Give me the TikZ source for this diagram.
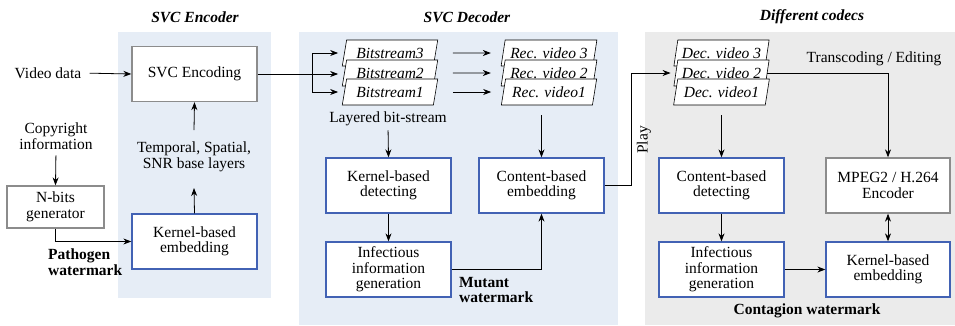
\documentclass[tikz,border=0pt]{standalone}
\usepackage{fontspec}
\setmainfont{Liberation Serif}
\usetikzlibrary{arrows.meta,shapes.geometric,calc}
\definecolor{encbg}{HTML}{E6EDF6}
\definecolor{codecbg}{HTML}{EBEBEB}
\definecolor{boxblue}{HTML}{4262B4}
\definecolor{boxgray}{HTML}{8C8C8C}
\begin{document}
\begin{tikzpicture}[x=1pt,y=-1pt,
  every node/.style={font=\fontsize{15.5}{15.5}\selectfont, inner sep=0pt},
  arr/.style={-{Stealth[length=8pt,width=6pt]}, line width=0.8pt},
  dblarr/.style={{Stealth[length=8pt,width=6pt]}-{Stealth[length=8pt,width=6pt]}, line width=0.8pt},
  conn/.style={line width=0.8pt},
  bluebox/.style={draw=boxblue, line width=1.3pt, fill=white, minimum width=125pt, minimum height=55pt, align=center},
  graybox/.style={draw=boxgray, line width=1.3pt, fill=white, minimum width=125pt, minimum height=55pt, align=center},
  stream/.style={trapezium, trapezium left angle=72, trapezium right angle=108,
    trapezium stretches=true, draw, line width=0.6pt, fill=white,
    minimum width=96pt, minimum height=26pt, font=\fontsize{15.5}{15.5}\selectfont\itshape},
  title/.style={font=\fontsize{15.5}{15.5}\selectfont\bfseries\itshape},
  wmark/.style={font=\fontsize{15.5}{15.5}\selectfont\bfseries, align=left}
]
\useasboundingbox (0,0) rectangle (955,325);

% stage backgrounds
\fill[encbg] (118,32) rectangle (271,298);
\fill[encbg] (299,32) rectangle (618,325);
\fill[codecbg] (645,32) rectangle (955,325);

% stage titles
\node[title] (tenc) at (195,17) {SVC Encoder};
\node[title] (tdec) at (467,17) {SVC Decoder};
\node[title] (tcod) at (812,17) {Different codecs};

% encoder side
\node (video) at (48,73) {Video data};
\node[graybox] (svcenc) at (194.5,74) {SVC Encoding};
\node[align=center] (copy) at (56,136) {Copyright\\information};
\node[graybox, minimum width=97pt, minimum height=42pt] (nbits) at (55.5,207) {N-bits\\generator};
\node[align=center] (layers) at (194,157) {Temporal, Spatial,\\SNR base layers};
\node[bluebox] (kemb) at (194.5,241.5) {Kernel-based\\embedding};
\node[wmark, anchor=west] (pathogen) at (48,262) {Pathogen\\watermark};

\draw[arr, shorten <=8pt] (video.east) -- (svcenc.west);
\draw[arr, shorten <=6pt] (copy.south) -- (nbits.north);
\draw[arr] (nbits.south) |- (kemb.west);
\draw[arr] (kemb.north) -- (layers.north |- 0,188);
\draw[arr] (layers.north |- 0,130) -- (svcenc.south);

% decoder side: layered bit-streams
\node[stream] (bs3) at (390,53) {Bitstream3};
\node[stream] (bs2) at (390,73) {Bitstream2};
\node[stream] (bs1) at (390,92) {Bitstream1};
\node[stream] (rv3) at (549,53) {Rec. video 3};
\node[stream] (rv2) at (549,73) {Rec. video 2};
\node[stream] (rv1) at (549,92) {Rec. video1};
\node (layered) at (388,119) {Layered bit-stream};

\coordinate (split) at (312,74);
\draw[conn] (svcenc.east |- split) -- (split);
\draw[arr, shorten >=6pt] (split) |- (bs3.west);
\draw[arr, shorten >=6pt] (split) -- (bs2.west |- split);
\draw[arr, shorten >=6pt] (split) |- (bs1.west);
\draw[arr, shorten <=17pt, shorten >=12pt] (bs3.east) -- (rv3.west);
\draw[arr, shorten <=17pt, shorten >=12pt] (bs2.east) -- (rv2.west);
\draw[arr, shorten <=17pt, shorten >=12pt] (bs1.east) -- (rv1.west);

\node[bluebox] (kdet) at (388.5,185.5) {Kernel-based\\detecting};
\node[bluebox] (inf1) at (388.5,269.5) {Infectious\\information\\generation};
\node[bluebox] (cemb) at (541.5,185.5) {Content-based\\embedding};
\node[wmark, anchor=west] (mutant) at (459,290) {Mutant\\watermark};

\draw[arr, shorten <=4pt] (layered.south) -- (kdet.north);
\draw[arr] (kdet.south) -- (inf1.north);
\draw[arr, shorten <=10pt] (rv1.south -| cemb.north) -- (cemb.north);
\draw[arr] (inf1.east) -| (cemb.south);

% playback into other codecs
\node[stream] (dv3) at (721.5,53) {Dec. video 3};
\node[stream] (dv2) at (721.5,73) {Dec. video 2};
\node[stream] (dv1) at (721.5,92) {Dec. video1};
\coordinate (playturn) at (631,185.5);
\draw[arr, shorten >=5pt] (cemb.east) -- (playturn) |- (dv2.west);
\node[rotate=90] (play) at (644,140) {Play};

\node[bluebox] (cdet) at (721.5,185.5) {Content-based\\detecting};
\node[bluebox] (inf2) at (721.5,269.5) {Infectious\\information\\generation};
\node[graybox, minimum width=124pt] (mpeg) at (888,185.5) {MPEG2 / H.264\\Encoder};
\node[bluebox, minimum width=124pt] (kemb2) at (888,269.5) {Kernel-based\\embedding};
\node (trans) at (874,59) {Transcoding / Editing};
\node[font=\fontsize{15.5}{15.5}\selectfont\bfseries] (contagion) at (807,311) {Contagion watermark};

\draw[arr, shorten <=10pt] (dv1.south -| cdet.north) -- (cdet.north);
\draw[arr] (cdet.south) -- (inf2.north);
\draw[arr] (inf2.east) -- (kemb2.west);
\draw[arr] (dv2.east) -| (mpeg.north);
\draw[dblarr] (mpeg.south) -- (kemb2.north);
\end{tikzpicture}
\end{document}
